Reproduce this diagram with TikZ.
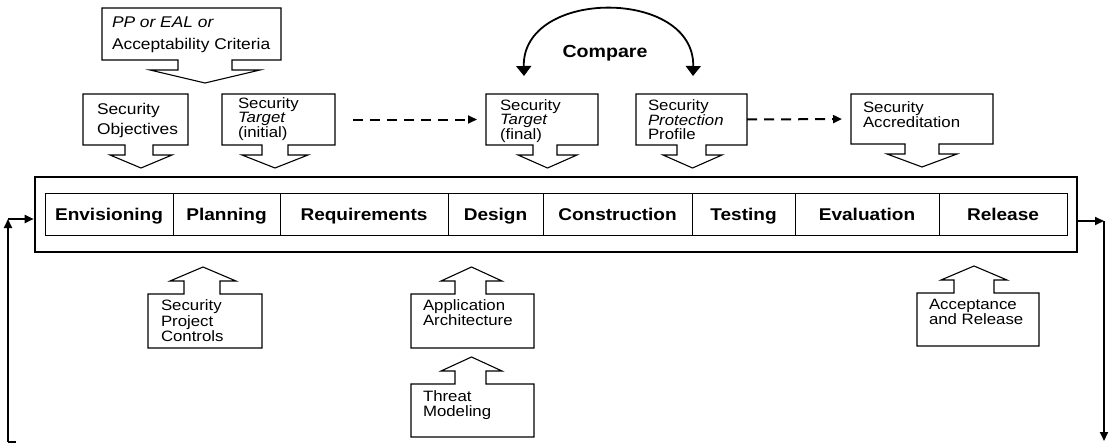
\documentclass[tikz,border=0pt]{standalone}
\usepackage{fontspec}
\setmainfont{Liberation Sans}[FakeStretch=1.12]
\usetikzlibrary{arrows.meta}
\tikzset{
  callline/.style={line width=1.1pt, line join=miter},
  area/.style={inner sep=0pt, outer sep=0pt, draw=none, anchor=north west},
  txt/.style={anchor=north west, inner sep=0pt, outer sep=0pt, align=left},
  phase/.style={draw, line width=0.9pt, minimum height=42pt, inner sep=0pt,
    text height=12pt, text depth=0pt,
    font=\bfseries\fontsize{17}{17}\selectfont},
  flow/.style={line width=1.8pt, -{Triangle[length=9pt,width=8pt]}},
  dasharrow/.style={line width=2pt, dash pattern=on 10pt off 7pt,
    -{Triangle[length=9pt,width=8pt]}},
  cmparrow/.style={line width=1.8pt,
    {Triangle[length=10pt,width=15pt]}-{Triangle[length=10pt,width=15pt]}},
}
% box with a broad arrow pointing down below it
\newcommand\downcall[9]{%
  \node[area, minimum width={(#4-#2)*1pt}, minimum height={(#5-#3)*1pt}] (#1) at (#2,#3) {};
  \draw[callline] (#2,#3) -- (#4,#3) -- (#4,#5) -- (#7,#5) -- (#7,#5+10) -- (#9,#5+10)
    -- ({(#8+#9)/2},#5+23) -- (#8,#5+10) -- (#6,#5+10) -- (#6,#5) -- (#2,#5) -- cycle;}
% box with a broad arrow pointing up above it
\newcommand\upcall[9]{%
  \node[area, minimum width={(#4-#2)*1pt}, minimum height={(#5-#3)*1pt}] (#1) at (#2,#3) {};
  \draw[callline] (#2,#3) -- (#6,#3) -- (#6,#3-13) -- (#8,#3-13)
    -- ({(#8+#9)/2},#3-27) -- (#9,#3-13) -- (#7,#3-13) -- (#7,#3) -- (#4,#3)
    -- (#4,#5) -- (#2,#5) -- cycle;}
\begin{document}
\begin{tikzpicture}[x=1pt,y=-1pt]
\path[fill=white, use as bounding box] (0,0) rectangle (1113,444);

% top callouts
\downcall{pp}{102}{8}{281}{60}{178}{232}{150}{260}
\downcall{so}{83}{94}{188}{145}{125}{153}{110}{172}
\downcall{sti}{222}{94}{335}{145}{262}{288}{242}{308}
\downcall{stf}{486}{94}{598}{145}{533}{557}{518}{577}
\downcall{spp}{636}{94}{747}{145}{677}{706}{663}{722}
\downcall{sa}{851}{94}{993}{144}{905}{939}{887}{957}

% bottom callouts
\upcall{spc}{148}{294}{262}{348}{184}{220}{170}{236}
\upcall{aa}{411}{294}{534}{348}{455}{486}{441}{502}
\upcall{tm}{411}{384}{534}{437}{455}{486}{441}{502}
\upcall{ar}{917}{293}{1039}{346}{954}{994}{941}{1007}

% texts
\node[txt, font=\fontsize{15.5}{22}\selectfont] (ppt) at (112,17) {\textit{PP or EAL or}\\Acceptability Criteria};
\node[txt, font=\fontsize{15.5}{20}\selectfont] (sot) at (97,103) {Security\\Objectives};
\node[txt, font=\fontsize{15}{13.5}\selectfont] (stit) at (238,98) {Security\\\textit{Target}\\(initial)};
\node[txt, font=\fontsize{15}{13.5}\selectfont] (stft) at (500,100) {Security\\\textit{Target}\\(final)};
\node[txt, font=\fontsize{15}{13.5}\selectfont] (sppt) at (648,100) {Security\\\textit{Protection}\\Profile};
\node[txt, font=\fontsize{15}{13}\selectfont] (sat) at (863,102) {Security\\Accreditation};
\node[txt, font=\fontsize{15}{15.5}\selectfont] (spct) at (161,300) {Security\\Project\\Controls};
\node[txt, font=\fontsize{15}{15}\selectfont] (aat) at (423,300) {Application\\Architecture};
\node[txt, font=\fontsize{15}{15}\selectfont] (tmt) at (423,391) {Threat\\Modeling};
\node[txt, font=\fontsize{15}{15}\selectfont] (art) at (929,299) {Acceptance\\and Release};

% frame and phases
\node[draw, line width=2.6pt, minimum width=1042pt, minimum height=75pt, inner sep=0pt] (frame) at (556,214.5) {};
\node[phase, minimum width=128pt] (env) at (109,214) {Envisioning};
\node[phase, minimum width=107pt] (pla) at (226.5,214) {Planning};
\node[phase, minimum width=168pt] (req) at (364,214) {Requirements};
\node[phase, minimum width=95pt] (des) at (495.5,214) {Design};
\node[phase, minimum width=149pt] (con) at (617.5,214) {Construction};
\node[phase, minimum width=103pt] (tes) at (743.5,214) {Testing};
\node[phase, minimum width=144pt] (eva) at (867,214) {Evaluation};
\node[phase, minimum width=128pt] (rel) at (1003,214) {Release};

% dashed arrows
\draw[dasharrow, shorten <=18pt, shorten >=9pt] (sti.east) -- (stf.west);
\draw[dasharrow, shorten >=9pt] (spp.east) -- (sa.west);

% compare
\coordinate (cl) at (524,76);
\coordinate (cr) at (693,76);
\draw[cmparrow] (cl) .. controls (522,-12) and (695,-12) .. (cr);
\node[font=\bfseries\fontsize{17.5}{18}\selectfont] (cmp) at (605,53) {Compare};

% loop arrows
\coordinate (lstub) at (16,442);
\coordinate (lb) at (8,442);
\coordinate (lc) at (8,219);
\draw[line width=1.8pt] (lstub) -- (lb);
\draw[flow] (lb) -- (lc);
\draw[flow] (lc) -- (lc -| frame.west);
\coordinate (rc) at (1104,221);
\coordinate (rb) at (1104,441);
\draw[flow] (rc -| frame.east) -- (rc);
\draw[flow] (rc) -- (rb);
\end{tikzpicture}
\end{document}
